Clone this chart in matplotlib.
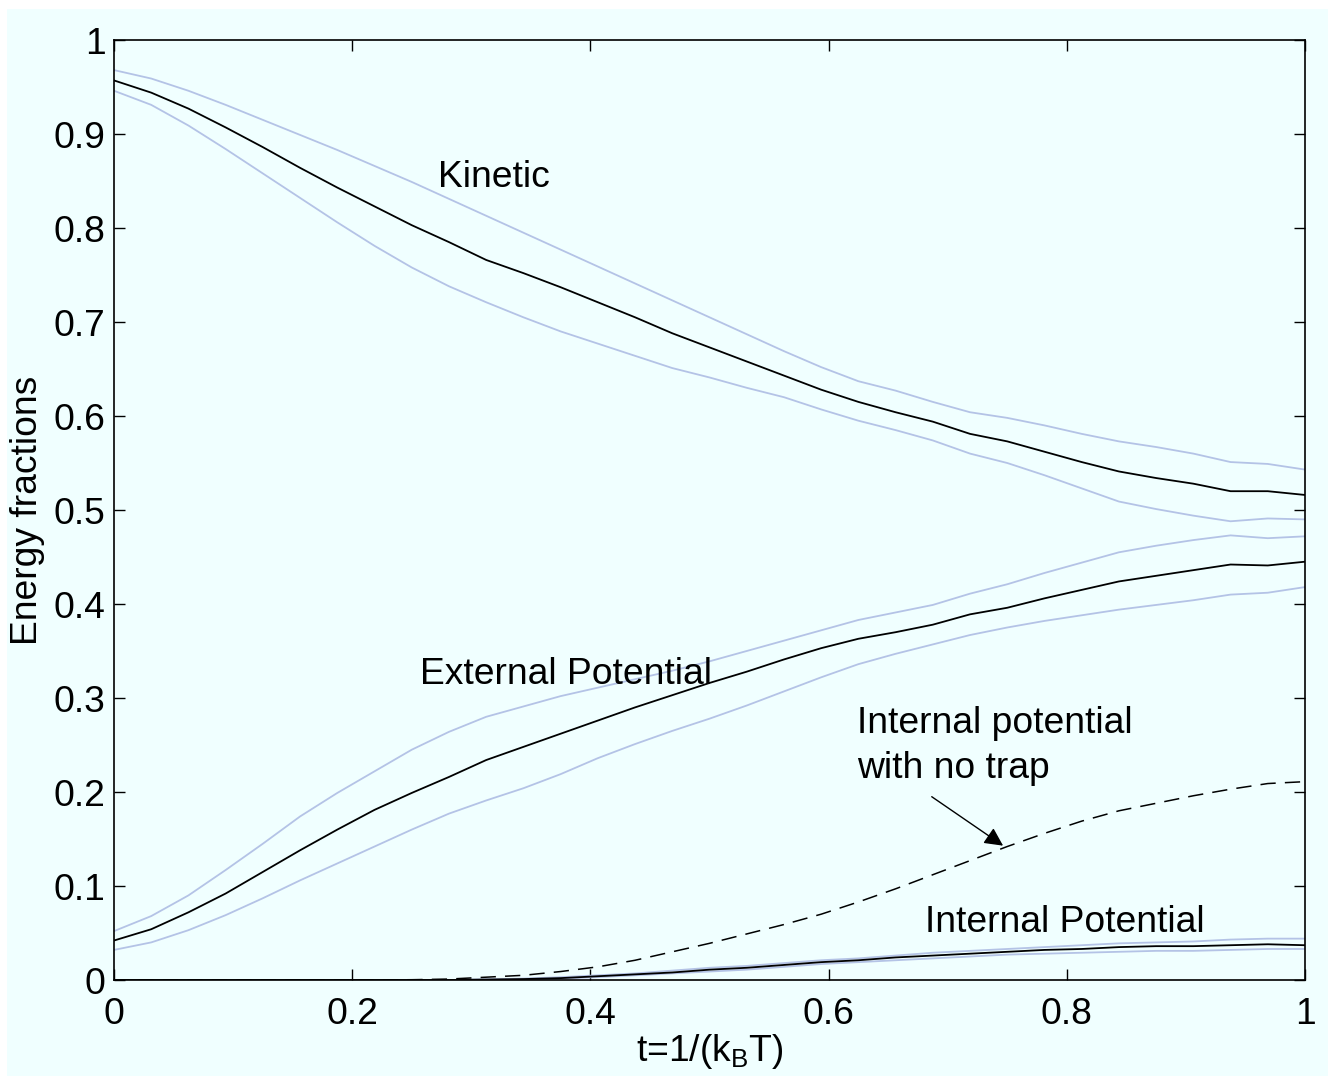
import matplotlib
matplotlib.use('Agg')
import matplotlib.pyplot as plt
from matplotlib.patches import Rectangle

plt.rcParams['font.family'] = ['Liberation Sans', 'DejaVu Sans']
plt.rcParams['mathtext.default'] = 'regular'

# t = 1/(k_B T), sampled every 1/32
t = [i / 32 for i in range(33)]

kinetic = [0.957, 0.944, 0.927, 0.907, 0.886, 0.864, 0.843, 0.823, 0.803, 0.785, 0.766,
           0.752, 0.737, 0.721, 0.705, 0.688, 0.673, 0.658, 0.643, 0.628, 0.615, 0.604,
           0.594, 0.581, 0.573, 0.562, 0.551, 0.541, 0.534, 0.528, 0.520, 0.520, 0.516]
kinetic_hi = [0.968, 0.959, 0.946, 0.931, 0.915, 0.899, 0.883, 0.866, 0.849, 0.831, 0.813,
              0.795, 0.777, 0.759, 0.741, 0.723, 0.705, 0.687, 0.669, 0.652, 0.637, 0.627,
              0.615, 0.604, 0.598, 0.590, 0.581, 0.573, 0.567, 0.560, 0.551, 0.549, 0.543]
kinetic_lo = [0.946, 0.931, 0.909, 0.884, 0.858, 0.832, 0.806, 0.781, 0.758, 0.738, 0.721,
              0.705, 0.690, 0.677, 0.664, 0.651, 0.641, 0.630, 0.620, 0.607, 0.595, 0.585,
              0.574, 0.560, 0.550, 0.537, 0.523, 0.509, 0.501, 0.494, 0.488, 0.491, 0.490]

external = [0.042, 0.054, 0.072, 0.092, 0.115, 0.138, 0.160, 0.181, 0.199, 0.216, 0.234,
            0.248, 0.262, 0.276, 0.290, 0.303, 0.316, 0.328, 0.341, 0.353, 0.363, 0.370,
            0.378, 0.389, 0.396, 0.406, 0.415, 0.424, 0.430, 0.436, 0.442, 0.441, 0.445]
external_hi = [0.052, 0.068, 0.090, 0.117, 0.145, 0.174, 0.199, 0.222, 0.245, 0.264, 0.280,
               0.291, 0.302, 0.311, 0.320, 0.329, 0.339, 0.350, 0.361, 0.372, 0.383, 0.391,
               0.399, 0.411, 0.421, 0.433, 0.444, 0.455, 0.462, 0.468, 0.473, 0.470, 0.472]
external_lo = [0.032, 0.040, 0.053, 0.069, 0.087, 0.106, 0.124, 0.142, 0.160, 0.177, 0.191,
               0.204, 0.219, 0.236, 0.251, 0.265, 0.278, 0.292, 0.307, 0.322, 0.336, 0.347,
               0.357, 0.367, 0.375, 0.382, 0.388, 0.394, 0.399, 0.404, 0.410, 0.412, 0.418]

internal = [0, 0, 0, 0, 0, 0, 0, 0, 0, 0, 0.0005,
            0.001, 0.002, 0.004, 0.006, 0.008, 0.011, 0.013, 0.016, 0.019, 0.021, 0.024,
            0.026, 0.028, 0.030, 0.032, 0.033, 0.035, 0.036, 0.036, 0.037, 0.038, 0.037]
internal_hi = [0, 0, 0, 0, 0, 0, 0, 0, 0, 0, 0.0007,
               0.0015, 0.003, 0.005, 0.007, 0.010, 0.013, 0.015, 0.018, 0.021, 0.023, 0.026,
               0.029, 0.031, 0.033, 0.035, 0.037, 0.039, 0.040, 0.041, 0.043, 0.044, 0.044]
internal_lo = [0, 0, 0, 0, 0, 0, 0, 0, 0, 0, 0.0003,
               0.0007, 0.0015, 0.003, 0.005, 0.007, 0.009, 0.011, 0.014, 0.017, 0.019, 0.021,
               0.023, 0.025, 0.027, 0.028, 0.029, 0.030, 0.031, 0.031, 0.032, 0.033, 0.033]

no_trap = [0, 0, 0, 0, 0, 0, 0, 0, 0.0003, 0.001, 0.003,
           0.005, 0.009, 0.014, 0.021, 0.030, 0.039, 0.049, 0.059, 0.070, 0.083, 0.097,
           0.112, 0.127, 0.142, 0.156, 0.169, 0.180, 0.188, 0.196, 0.203, 0.209, 0.211]

BG = '#f0ffff'
BAND = '#b4c3e6'
FS = 26.8

fig = plt.figure(figsize=(13.35, 10.82), dpi=100)
fig.patch.set_facecolor('white')
fig.patches.append(Rectangle((7 / 1335, 6 / 1082), 1321 / 1335, 1067 / 1082,
                             transform=fig.transFigure, facecolor=BG,
                             edgecolor='none', zorder=-10))

ax = fig.add_axes([114 / 1335, 102 / 1082, 1191 / 1335, 940 / 1082])
ax.set_facecolor(BG)

for band in (kinetic_hi, kinetic_lo, external_hi, external_lo, internal_hi, internal_lo):
    ax.plot(t, band, color=BAND, lw=1.3)
for curve in (kinetic, external, internal):
    ax.plot(t, curve, color='black', lw=1.3)
ax.plot(t, no_trap, color='black', lw=1.1, dashes=(10, 6))

ax.set_xlim(0, 1)
ax.set_ylim(0, 1)
ax.set_xticks([0, 0.2, 0.4, 0.6, 0.8, 1])
ax.set_xticklabels(['0', '0.2', '0.4', '0.6', '0.8', '1'])
ax.set_yticks([i / 10 for i in range(11)])
ax.set_yticklabels(['0', '0.1', '0.2', '0.3', '0.4', '0.5', '0.6', '0.7', '0.8', '0.9', '1'])
ax.tick_params(direction='in', length=8, width=1.0, labelsize=FS,
               top=True, right=True)
ax.tick_params(axis='x', pad=12)
ax.tick_params(axis='y', pad=6)
for s in ax.spines.values():
    s.set_linewidth(1.2)

ax.set_xlabel('t=1/(k$_B$T)', fontsize=FS, labelpad=0)
ax.set_ylabel('Energy fractions', fontsize=FS, labelpad=6)

ax.text(0.272, 0.854, 'Kinetic', fontsize=FS, va='center', ha='left')
ax.text(0.257, 0.3245, 'External Potential', fontsize=FS, va='center', ha='left')
ax.text(0.624, 0.273, 'Internal potential', fontsize=FS, va='center', ha='left')
ax.text(0.624, 0.2245, 'with no trap', fontsize=FS, va='center', ha='left')
ax.text(0.681, 0.0617, 'Internal Potential', fontsize=FS, va='center', ha='left')
ax.annotate('', xy=(0.7465, 0.1429), xytext=(0.6866, 0.195),
            arrowprops=dict(arrowstyle='-|>', color='black', lw=1.0,
                            mutation_scale=28, shrinkA=0, shrinkB=0))

fig.savefig('out.png', dpi=100, facecolor='white')
